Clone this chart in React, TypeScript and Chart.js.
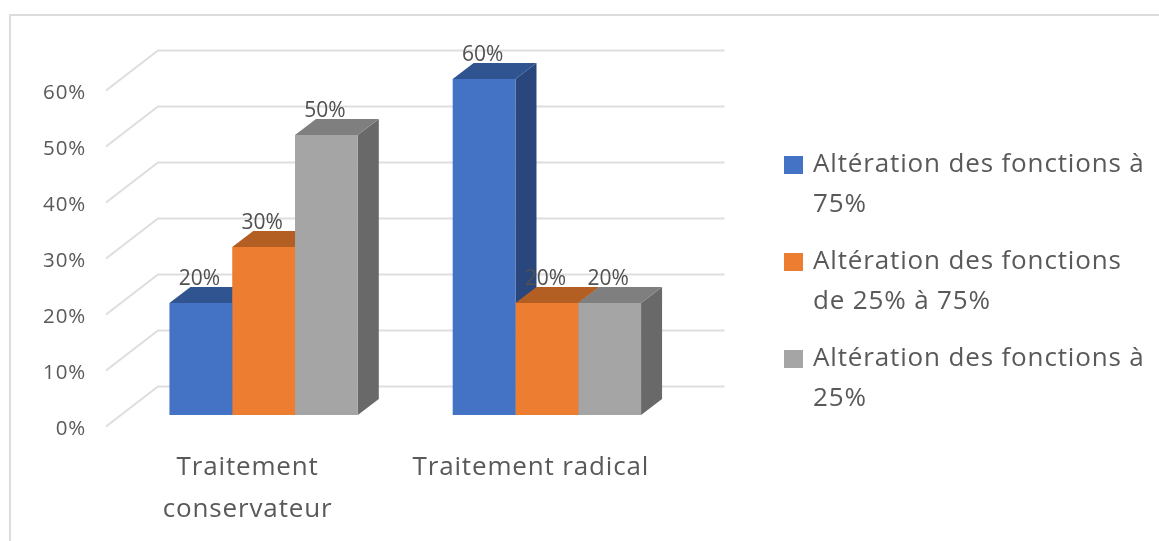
import React, { useEffect, useRef } from "react";
import { Chart, registerables } from "chart.js";

Chart.register(...registerables);

const categories: (string | string[])[] = [["Traitement", "conservateur"], "Traitement radical"];
const seriesNames: string[][] = [
  ["Altération des fonctions à", "75%"],
  ["Altération des fonctions", "de 25% à 75%"],
  ["Altération des fonctions à", "25%"],
];
const highValues = [20, 60];
const midValues = [30, 20];
const lowValues = [50, 20];
const frontColors = ["#4472c4", "#ed7d31", "#a5a5a5"];
const topColors = ["#30548f", "#b35e22", "#7f7f7f"];
const sideColors = ["#29477c", "#8f4b1c", "#696969"];
const yTicks = [0, 10, 20, 30, 40, 50, 60];

const TEXT = "#595959";
const FONT = "'Open Sans'";
const DEPTH_X = 21;
const DEPTH_Y = 16;
const BACK_X = 36;
const BACK_Y = 28.5;
const FRONT_X = 52;
const FRONT_Y = 40;
const LEGEND_LEFT = 770;
const LEGEND_TOP = 135;

const poly = (ctx: CanvasRenderingContext2D, pts: number[][], fill: string) => {
  ctx.beginPath();
  pts.forEach(([x, y], i) => (i ? ctx.lineTo(x, y) : ctx.moveTo(x, y)));
  ctx.closePath();
  ctx.fillStyle = fill;
  ctx.fill();
};

const threeD = {
  id: "threeD",
  afterLayout(chart: any) {
    const l = chart.legend;
    l.left = LEGEND_LEFT;
    l.right = 1159;
    l.top = LEGEND_TOP;
    l.bottom = 541;
  },
  beforeDraw(chart: any) {
    chart.ctx.letterSpacing = "0.85px";
  },
  beforeDatasetsDraw(chart: any) {
    const { ctx, chartArea, scales } = chart;
    const y = scales.y;
    ctx.save();
    ctx.strokeStyle = "#dedede";
    ctx.lineWidth = 2;
    yTicks.forEach((t) => {
      const py = y.getPixelForValue(t) - BACK_Y;
      const bx = chartArea.left + BACK_X;
      ctx.beginPath();
      ctx.moveTo(bx - FRONT_X, py + FRONT_Y);
      ctx.lineTo(bx, py);
      ctx.lineTo(chartArea.right + BACK_X, py);
      ctx.stroke();
    });
    categories.forEach((_, c) => {
      chart.data.datasets.forEach((_d: any, s: number) => {
        const bar = chart.getDatasetMeta(s).data[c];
        const half = bar.width / 2;
        const l = bar.x - half;
        const r = bar.x + half;
        const t = bar.y;
        const b = bar.base;
        poly(ctx, [[r, t], [r + DEPTH_X, t - DEPTH_Y], [r + DEPTH_X, b - DEPTH_Y], [r, b]], sideColors[s]);
        poly(ctx, [[l, t], [r, t], [r + DEPTH_X, t - DEPTH_Y], [l + DEPTH_X, t - DEPTH_Y]], topColors[s]);
      });
    });
    ctx.restore();
  },
  afterDatasetsDraw(chart: any) {
    const { ctx } = chart;
    ctx.save();
    ctx.letterSpacing = "0px";
    ctx.font = `21px ${FONT}`;
    ctx.fillStyle = "#505050";
    ctx.textAlign = "center";
    ctx.textBaseline = "middle";
    chart.data.datasets.forEach((d: any, s: number) => {
      chart.getDatasetMeta(s).data.forEach((bar: any, i: number) => {
        ctx.fillText(`${d.data[i]}%`, bar.x - 1.5, bar.y - 24);
      });
    });
    ctx.restore();
  },
};

export default function App() {
  const ref = useRef<HTMLCanvasElement>(null);
  useEffect(() => {
    const chart = new Chart(ref.current!, {
      type: "bar",
      data: {
        labels: categories as any,
        datasets: [highValues, midValues, lowValues].map((data, i) => ({
          label: seriesNames[i].join(" "),
          data,
          backgroundColor: frontColors[i],
          borderWidth: 0,
          categoryPercentage: 0.665,
          barPercentage: 1,
        })),
      },
      options: {
        responsive: false,
        animation: false,
        layout: { padding: { top: 79, right: 241, left: 0, bottom: 0 } },
        plugins: {
          tooltip: { enabled: false },
          legend: {
            position: "right",
            align: "start",
            labels: {
              boxWidth: 13,
              boxHeight: 12,
              padding: 17,
              color: TEXT,
              font: { family: FONT, size: 26, lineHeight: "40px" as any },
              generateLabels: () =>
                seriesNames.map((text, i) => ({
                  text: text as any,
                  fillStyle: frontColors[i],
                  strokeStyle: frontColors[i],
                  fontColor: TEXT,
                  lineWidth: 6,
                  hidden: false,
                  datasetIndex: i,
                })),
            },
          },
        },
        scales: {
          x: {
            grid: { display: false, drawTicks: false },
            border: { display: false },
            ticks: {
              color: TEXT,
              padding: 32,
              labelOffset: -16,
              maxRotation: 0,
              autoSkip: false,
              font: { family: FONT, size: 26, lineHeight: "42px" as any },
            },
            afterFit: (s: any) => {
              s.height = 126;
            },
          },
          y: {
            min: 0,
            max: 60,
            grid: { display: false, drawTicks: false },
            border: { display: false },
            afterBuildTicks: (s: any) => {
              s.ticks = yTicks.map((value) => ({ value }));
            },
            afterFit: (s: any) => {
              s.width = 122;
            },
            ticks: {
              color: TEXT,
              padding: 36,
              labelOffset: 14,
              font: { family: FONT, size: 20.5 },
              callback: (v: any) => `${v}%`,
            },
          },
        },
      },
      plugins: [threeD],
    });
    return () => chart.destroy();
  }, []);
  return (
    <div style={{ position: "absolute", left: 0, top: 0, width: 1159, height: 541, overflow: "hidden", background: "#fff" }}>
      <div
        style={{
          position: "absolute",
          left: 9,
          top: 14,
          right: 0,
          bottom: 0,
          borderLeft: "2px solid #dcdcdc",
          borderTop: "2px solid #dcdcdc",
        }}
      />
      <canvas ref={ref} width={1159} height={541} style={{ position: "absolute", left: 0, top: 0 }} />
    </div>
  );
}
